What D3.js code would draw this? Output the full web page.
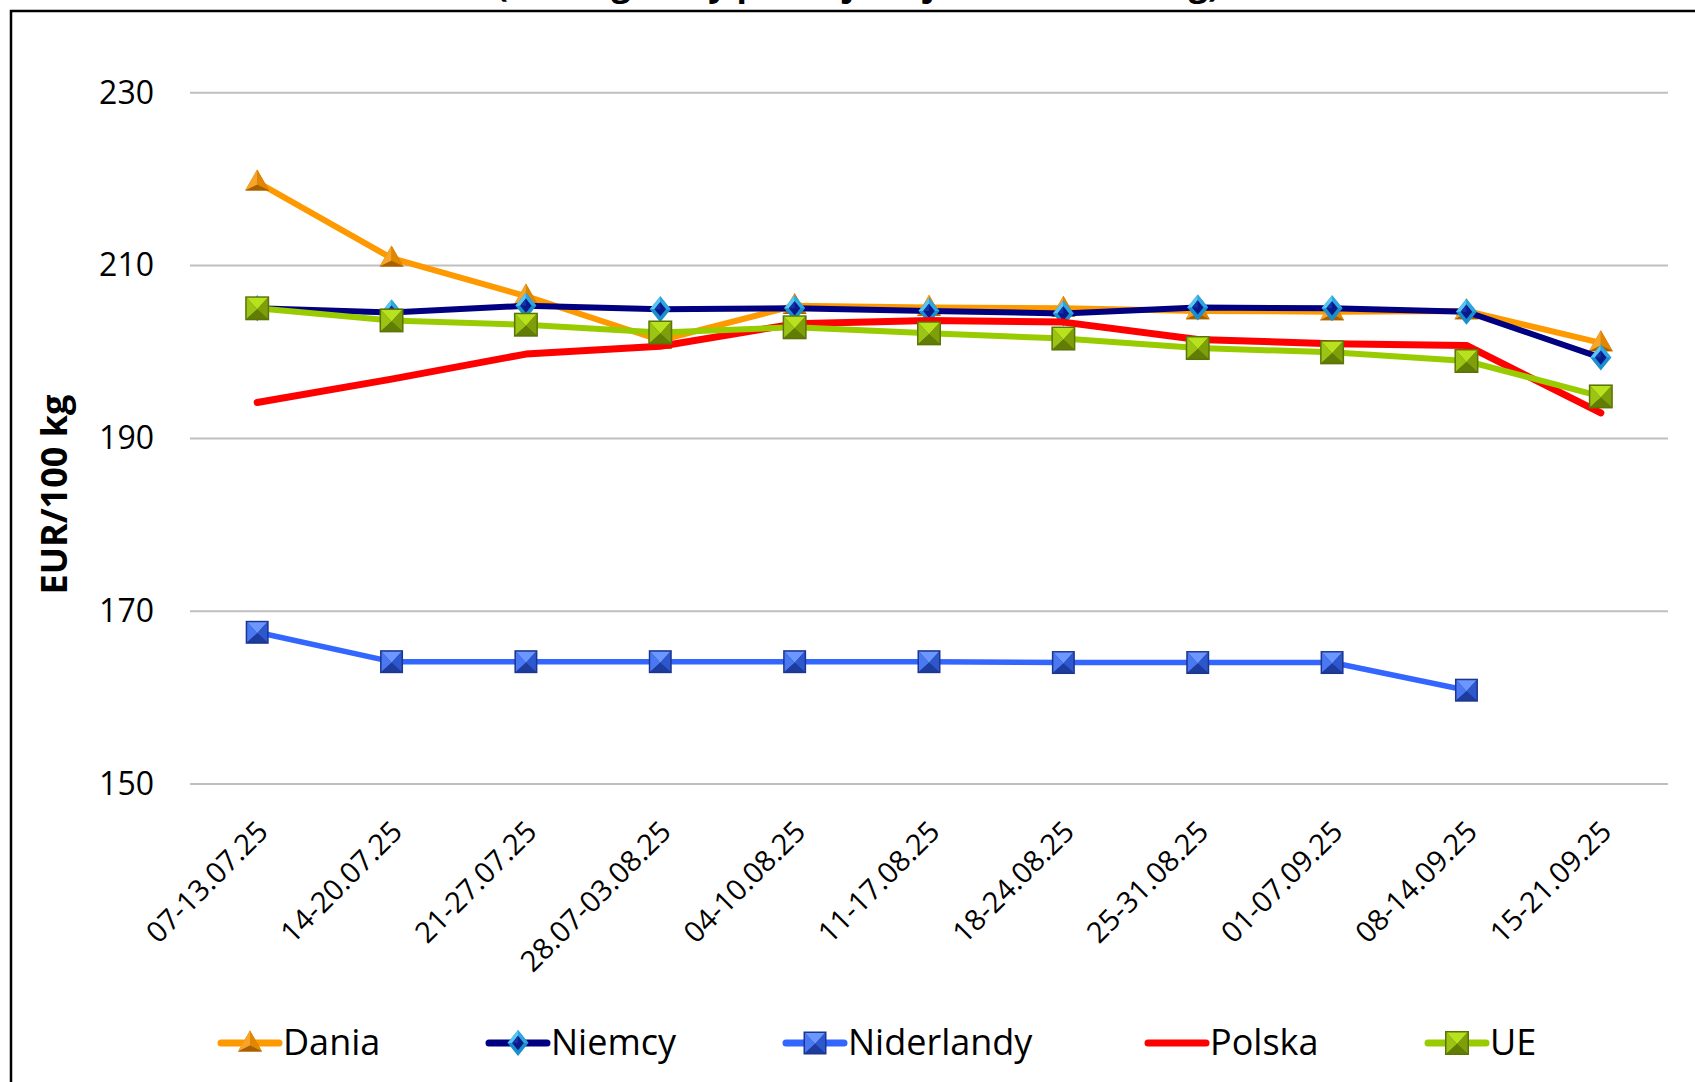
<!DOCTYPE html>
<html><head><meta charset="utf-8">
<script src="https://cdn.jsdelivr.net/npm/d3@7"></script>
<style>
html,body{margin:0;padding:0;background:#fff;overflow:hidden}
svg{display:block}
</style></head>
<body>
<script>
const categories = ["07-13.07.25","14-20.07.25","21-27.07.25","28.07-03.08.25","04-10.08.25","11-17.08.25","18-24.08.25","25-31.08.25","01-07.09.25","08-14.09.25","15-21.09.25"];
const dania      = [219.6, 210.8, 206.4, 201.3, 205.3, 205.1, 205.0, 204.7, 204.6, 204.7, 201.0];
const niemcy     = [205.0, 204.5, 205.3, 204.9, 205.0, 204.7, 204.4, 205.1, 205.0, 204.6, 199.3];
const niderlandy = [167.5, 164.1, 164.1, 164.1, 164.1, 164.1, 164.0, 164.0, 164.0, 160.8, null];
const polska     = [194.1, 196.8, 199.7, 200.6, 203.2, 203.6, 203.4, 201.4, 200.9, 200.7, 192.9];
const ue         = [205.0, 203.6, 203.1, 202.2, 202.8, 202.1, 201.5, 200.4, 199.9, 198.9, 194.8];
const yTicks = [150, 170, 190, 210, 230];
const seriesNames = ["Dania", "Niemcy", "Niderlandy", "Polska", "UE"];
const titleText = "(według klasy poubojowej E, w EUR/100 kg)";
const yTitle = "EUR/100 kg";

const W = 1695, H = 1082;
const svg = d3.select("body").append("svg").attr("width", W).attr("height", H);

const styles = {
  Dania:      {color:"#FF9900", width:6, marker:"triangle"},
  Niemcy:     {color:"#000080", width:6, marker:"diamond"},
  Niderlandy: {color:"#3366FF", width:5.5, marker:"squareBlue"},
  Polska:     {color:"#FF0000", width:7, marker:null},
  UE:         {color:"#99CC00", width:6, marker:"squareGreen"}
};
const seriesData = [dania, niemcy, niderlandy, polska, ue];

// frame
svg.append("rect").attr("x",11).attr("y",11).attr("width",1800).attr("height",1200)
  .attr("fill","none").attr("stroke","#000").attr("stroke-width",2.5);

// title (cut off at top, as in the reference)
svg.append("text").attr("x",858).attr("y",-4).attr("text-anchor","middle")
  .attr("font-family","Open Sans").attr("font-weight","bold").attr("font-size",34)
  .attr("fill","#000").text(titleText);

const x = d3.scalePoint().domain(categories).range([190, 1668]).padding(0.5);
const y = d3.scaleLinear().domain([150, 230]).range([783.5, 92.3]);

// grid
const yAxis = d3.axisLeft(y).tickValues(yTicks).tickSize(-(1668-190)).tickPadding(36).tickFormat(d3.format("d"));
const gy = svg.append("g").attr("transform","translate(190,0)").call(yAxis);
gy.select(".domain").remove();
gy.selectAll(".tick line").attr("stroke","#BFBFBF").attr("stroke-width",2);
gy.selectAll(".tick text").attr("font-family","Open Sans").attr("font-size",32).attr("fill","#000")
  .attr("dy","0.34em");

// x labels
const xAxis = d3.axisBottom(x).tickSize(0).tickPadding(0);
const gx = svg.append("g").attr("transform","translate(0,783.5)").call(xAxis);
gx.select(".domain").remove();
gx.selectAll(".tick text")
  .attr("font-family","Open Sans").attr("font-size",29).attr("fill","#000")
  .attr("text-anchor","end").attr("dy",0).attr("y",0)
  .attr("transform","translate(12,50) rotate(-45)");

// y title
svg.append("text").attr("transform","translate(67,494.5) rotate(-90)")
  .attr("text-anchor","middle").attr("font-family","Open Sans").attr("font-weight","bold")
  .attr("font-size",36).attr("fill","#000").text(yTitle);

// marker drawers
function poly(g, pts, fill){ g.append("polygon").attr("points", pts.map(p=>p.join(",")).join(" ")).attr("fill", fill); }
function drawSquare(g, s, c){
  const h = s/2;
  const TL=[-h,-h], TR=[h,-h], BR=[h,h], BL=[-h,h];
  poly(g,[TL,TR,BR,BL],c.edge);
  const k = h-1.5;
  const tl=[-k,-k], tr=[k,-k], br=[k,k], bl=[-k,k], cc=[0,1];
  poly(g,[tl,tr,cc],c.top);
  poly(g,[tl,bl,cc],c.left);
  poly(g,[tr,br,cc],c.right);
  poly(g,[bl,br,cc],c.bottom);
}
function drawDiamond(g, w, h){
  const T=[0,-h/2], R=[w/2,0], B=[0,h/2], L=[-w/2,0];
  poly(g,[T,R,B,L],"#1A8FD0");
  poly(g,[T,[0,0],L],"#56C6F2");
  poly(g,[T,R,[0,0]],"#2FA6E0");
  const f=0.55;
  poly(g,[[0,-h/2*f],[w/2*f,0],[0,h/2*f],[-w/2*f,0]],"#0B1A8A");
  poly(g,[[0,-h/2*f],[0,0],[-w/2*f,0]],"#1533A8");
}
function drawTriangle(g, w, h){
  const A=[0,-h*0.6], BL=[-w/2,h*0.4], BR=[w/2,h*0.4], C=[0,h*0.12];
  poly(g,[A,BL,BR],"#C77400");
  poly(g,[A,BL,C],"#F7A52A");
  poly(g,[A,BR,C],"#E08600");
  poly(g,[BL,BR,C],"#A85F00");
}
const greenC = {edge:"#5A7406", top:"#B9E21E", left:"#9CC414", right:"#7E9F0A", bottom:"#617D04"};
const blueC  = {edge:"#1C3590", top:"#6C97FF", left:"#4A78F2", right:"#2D57CC", bottom:"#1E3C9E"};
function drawMarker(g, type){
  if(type==="triangle") drawTriangle(g, 24, 21);
  else if(type==="diamond") drawDiamond(g, 21, 26);
  else if(type==="squareBlue") drawSquare(g, 23, blueC);
  else if(type==="squareGreen") drawSquare(g, 24, greenC);
}

// series
seriesNames.forEach((name, si) => {
  const st = styles[name];
  const vals = seriesData[si];
  const pts = categories.map((c,i)=>({c, v:vals[i]}));
  const line = d3.line().defined(d=>d.v!=null).x(d=>x(d.c)).y(d=>y(d.v));
  const g = svg.append("g");
  g.append("path").datum(pts).attr("d", line).attr("fill","none")
    .attr("stroke", st.color).attr("stroke-width", st.width)
    .attr("stroke-linejoin","round").attr("stroke-linecap","round");
  if(st.marker){
    pts.filter(d=>d.v!=null).forEach(d=>{
      const mg = g.append("g").attr("transform",`translate(${x(d.c)},${y(d.v)})`);
      drawMarker(mg, st.marker);
    });
  }
});

// legend
const legendX = [221, 489, 786, 1148, 1428];
const legendY = 1043;
seriesNames.forEach((name, i) => {
  const st = styles[name];
  const g = svg.append("g").attr("transform",`translate(${legendX[i]},${legendY})`);
  g.append("line").attr("x1",0).attr("x2",58).attr("y1",0).attr("y2",0)
    .attr("stroke",st.color).attr("stroke-width",7).attr("stroke-linecap","round");
  if(st.marker){
    const mg = g.append("g").attr("transform","translate(29,0)");
    drawMarker(mg, st.marker);
  }
  g.append("text").attr("x",62).attr("y",12).attr("font-family","Open Sans")
    .attr("font-size",36).attr("fill","#000").text(name);
});
</script>
</body></html>
